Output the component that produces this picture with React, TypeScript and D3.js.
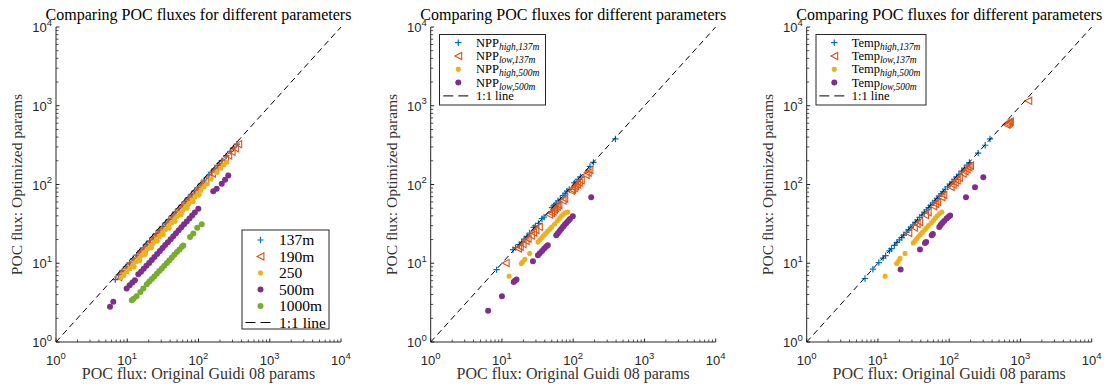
import React from "react";
import * as d3 from "d3";

const W = 1112;
const H = 384;
const TOP = 27;
const BOTTOM = 342;
const PLOT_W = 285;

const DECADES = [1, 10, 100, 1000, 10000];
const EXPONENTS = ["0", "1", "2", "3", "4"];
const TITLE = "Comparing POC fluxes for different parameters";
const XLABEL = "POC flux: Original Guidi 08 params";
const YLABEL = "POC flux: Optimized params";

const BLUE = "#0072BD";
const ORANGE = "#D95319";
const YELLOW = "#EDB120";
const PURPLE = "#7E2F8E";
const GREEN = "#77AC30";
const AXIS = "#262626";

// ---------------- Panel 1: depths ----------------
const p1_137m: [number, number][] = [
  [6.8, 6.2], [7.6, 7.1], [8.5, 8.0], [9.6, 9.0], [10.8, 10.1], [12.1, 11.4], [13.5, 12.7], [15.2, 14.3],
  [16.8, 15.7], [18.5, 17.4], [20.6, 19.3], [22.8, 21.4], [25.3, 23.8], [28.1, 26.3], [31.2, 29.4],
  [34.6, 32.5], [38.4, 36.1], [42.6, 40.0], [47.3, 44.5], [52.5, 49.3], [58.3, 54.8], [64.7, 60.8],
  [71.8, 67.5], [79.7, 74.9], [88.5, 83.2], [98.2, 92.3], [109, 102], [121, 114], [140, 132], [152, 143],
  [168, 158], [186, 175], [196, 184], [214, 201], [245, 231], [280, 264], [310, 292], [345, 326],
];
const p1_190m: [number, number][] = [
  [7.5, 6.7], [8.3, 7.4], [9.2, 8.2], [10.2, 9.1], [11.3, 10.1], [12.6, 11.2], [14.0, 12.5], [15.5, 13.8],
  [17.2, 15.3], [19.1, 17.0], [21.2, 18.9], [23.5, 20.9], [26.1, 23.2], [29.0, 25.8], [32.2, 28.7],
  [35.7, 31.8], [39.6, 35.2], [44.0, 39.2], [48.8, 43.4], [54.2, 48.2], [60.1, 53.5], [66.7, 59.4],
  [74.0, 65.9], [82.2, 73.2], [91.2, 81.2], [101, 90], [112, 100], [125, 111], [139, 124], [155, 138],
  [172, 153], [191, 170], [212, 189], [236, 210], [262, 233], [292, 260], [325, 289], [362, 325],
];
const p1_250: [number, number][] = [
  [8.2, 6.6], [9.0, 7.2], [9.9, 7.9], [10.9, 8.6], [12.0, 9.5], [13.2, 10.4], [14.5, 11.4], [16.0, 12.6],
  [17.6, 13.8], [19.4, 15.2], [21.3, 16.7], [23.5, 18.4], [25.8, 20.2], [28.4, 22.2], [31.3, 24.5],
  [34.4, 26.9], [37.8, 29.6], [41.6, 32.6], [45.8, 35.8], [50.4, 39.4], [55.4, 43.4], [61.0, 47.7],
  [67.1, 52.5], [73.8, 57.8], [81.2, 63.5], [89.3, 69.9], [98.2, 76.9], [108, 84.6], [119, 93.2],
  [131, 102], [150, 118], [180, 142], [205, 162], [228, 178], [250, 192],
  [12.5, 9.0], [15.0, 10.9], [18.0, 13.0], [21.8, 15.8], [26.5, 19.2], [32.0, 23.1], [38.8, 28.0],
  [47.0, 34.0], [57.0, 41.2], [69.0, 50.0], [84.0, 60.8], [102, 74],
];
const p1_500m: [number, number][] = [
  [5.73, 2.8], [6.37, 3.24], [9.8, 4.78], [10.8, 5.25], [11.8, 5.7], [12.8, 6.1], [14.3, 7.26],
  [15.6, 7.8], [17.0, 8.5], [18.6, 9.3], [20.3, 10.1], [22.1, 11.0], [24.1, 12.0], [26.3, 13.1],
  [28.7, 14.3], [31.3, 15.6], [34.1, 17.0], [37.2, 18.5], [40.6, 20.2], [44.3, 22.0], [48.3, 24.0],
  [52.7, 26.2], [57.5, 28.6], [62.7, 31.2], [68.4, 34.0], [74.6, 37.1], [81.4, 40.5], [88.8, 44.2],
  [99.4, 49.2], [161, 82], [180, 88], [212, 102], [236, 115], [262, 130],
];
const p1_1000m: [number, number][] = [
  [11.6, 3.4], [12.3, 3.55], [13.5, 3.8], [15.3, 4.3], [16.8, 4.78], [18.8, 5.42], [20.4, 5.85],
  [22.1, 6.3], [24.0, 6.8], [26.0, 7.35], [28.2, 7.95], [30.6, 8.6], [33.2, 9.3], [36.0, 10.1],
  [39.0, 10.9], [42.3, 11.8], [45.9, 12.8], [49.8, 13.9], [54.0, 15.0], [58.6, 16.2], [61.2, 16.8],
  [76, 21.5], [84.5, 23.8], [96, 28.3], [111, 31.2],
];

// ---------------- Panel 2: NPP ----------------
const p2_high137: [number, number][] = [
  [8.4, 8.3], [14.3, 14.9], [15.5, 15.8], [17.5, 17.2], [19.0, 18.6], [20.5, 20.3], [22.5, 22.0],
  [24.5, 24.2], [28.0, 28.5], [29.5, 29.8], [32.5, 32.0], [36.5, 36.8], [39.0, 38.5], [50.5, 51.0],
  [53.0, 53.5], [55.5, 55.0], [58.0, 57.5], [61.5, 62.0], [66.0, 65.0], [72.0, 72.5], [77.0, 76.0],
  [82.0, 82.5], [88.0, 86.5], [104, 105], [110, 108], [118, 116], [126, 125], [172, 170], [192, 191],
  [391, 379],
];
const p2_low137: [number, number][] = [
  [11.3, 10.1], [16.8, 15.4], [17.8, 16.2], [19.5, 17.5], [21.5, 19.2], [23.0, 20.5], [25.5, 22.5],
  [27.5, 24.5], [29.5, 26.5], [33.0, 29.0], [46.0, 41.5], [49.0, 43.5], [51.5, 45.5], [54.0, 48.0],
  [56.5, 50.0], [59.0, 52.5], [62.0, 55.0], [71.0, 62.5], [75.0, 66.0], [93, 83], [97, 86], [102, 90],
  [107, 95], [113, 100], [120, 106], [128, 113], [150, 132], [160, 141], [169, 153],
];
const p2_high500: [number, number][] = [
  [12.6, 6.85], [18.7, 9.9], [19.5, 10.4], [21.0, 11.2], [24.5, 13.3], [32, 18.6], [34, 19.8], [36, 21.0],
  [38.5, 22.4], [41, 23.8], [44, 25.5], [47, 27.0], [50, 28.8], [55, 31.5], [60, 34.5], [64, 37.0],
  [68, 39.5], [72, 41.5], [77, 43.5], [84, 44.6],
];
const p2_low500: [number, number][] = [
  [6.4, 2.49], [10, 3.82], [14.6, 5.8], [15.2, 6.0], [16.0, 6.2], [27.2, 10.6], [32, 12.6], [34, 13.4],
  [36.5, 14.3], [39, 15.3], [41.5, 16.2], [44, 16.9], [57.8, 22.6], [61, 24.0], [64.5, 25.6], [68, 27.2],
  [72, 29.0], [76, 30.8], [80, 32.5], [85, 34.5], [90, 36.5], [98.7, 39.4], [179, 69],
];

// ---------------- Panel 3: Temperature ----------------
const p3_high137: [number, number][] = [
  [6.58, 6.4], [8.5, 8.4], [10.3, 10.2], [11.8, 11.6], [12.8, 12.5], [14.5, 14.4], [15.5, 15.3],
  [17.0, 16.9], [18.5, 18.4], [20.0, 19.8], [21.5, 21.2], [23.0, 22.8], [25.0, 24.6], [27.0, 26.8],
  [29.0, 28.7], [31.0, 30.6], [33.5, 33.0], [36.0, 35.5], [38.5, 38.2], [41.5, 41.0], [45.0, 44.5],
  [48.0, 47.5], [51.5, 51.0], [55.0, 54.2], [59.0, 58.5], [63.0, 62.0], [67.5, 66.5], [72.0, 71.0],
  [77.0, 76.0], [82.0, 81.0], [88.0, 87.0], [95.0, 93.5], [102, 101], [110, 108], [118, 116],
  [127, 125], [137, 135], [150, 148], [163, 161], [178, 176], [192, 190], [255, 250], [320, 315],
  [374, 379],
];
const p3_low137: [number, number][] = [
  [26.7, 24.2], [32.0, 28.5], [35.0, 31.5], [38.0, 33.5], [46.0, 41.0], [50.0, 44.5], [60.0, 53.0],
  [64.0, 56.5], [68.0, 60.0], [78.0, 69.0], [83.0, 73.5], [105, 93], [112, 99], [120, 106], [128, 113],
  [137, 122], [155, 138], [165, 147], [176, 157], [187, 166], [196, 174], [641, 574], [665, 590],
  [690, 612], [712, 632], [1290, 1156],
];
const p3_high500: [number, number][] = [
  [12.6, 6.85], [18.3, 9.9], [19.2, 10.5], [20.4, 11.5], [24.0, 13.3], [31.3, 18.1], [33.0, 19.2],
  [35.0, 20.5], [37.0, 21.8], [39.5, 23.2], [42.0, 24.6], [45.0, 26.3], [48.0, 28.0], [51.0, 30.0],
  [56.0, 32.5], [60.0, 35.0], [64.0, 37.5], [68.0, 40.0], [73.0, 42.5], [78.5, 44.6],
];
const p3_low500: [number, number][] = [
  [20.8, 8.3], [38.9, 14.9], [45.7, 18.1], [47.5, 18.6], [56.8, 22.6], [59, 23.5], [72.6, 28.8],
  [76, 30.5], [80, 32.5], [85, 34.5], [92, 37.0], [98, 39.0], [103, 40.5], [172, 69], [230, 92.5],
  [301, 124],
];

type Marker = "plus" | "triLeft" | "star" | "dot";
type Series = { label: string; sub?: string; marker: Marker; color: string; data: [number, number][] };

const panel1Series: Series[] = [
  { label: "137m", marker: "plus", color: BLUE, data: p1_137m },
  { label: "190m", marker: "triLeft", color: ORANGE, data: p1_190m },
  { label: "250", marker: "star", color: YELLOW, data: p1_250 },
  { label: "500m", marker: "dot", color: PURPLE, data: p1_500m },
  { label: "1000m", marker: "dot", color: GREEN, data: p1_1000m },
];
const panel2Series: Series[] = [
  { label: "NPP", sub: "high,137m", marker: "plus", color: BLUE, data: p2_high137 },
  { label: "NPP", sub: "low,137m", marker: "triLeft", color: ORANGE, data: p2_low137 },
  { label: "NPP", sub: "high,500m", marker: "star", color: YELLOW, data: p2_high500 },
  { label: "NPP", sub: "low,500m", marker: "dot", color: PURPLE, data: p2_low500 },
];
const panel3Series: Series[] = [
  { label: "Temp", sub: "high,137m", marker: "plus", color: BLUE, data: p3_high137 },
  { label: "Temp", sub: "low,137m", marker: "triLeft", color: ORANGE, data: p3_low137 },
  { label: "Temp", sub: "high,500m", marker: "star", color: YELLOW, data: p3_high500 },
  { label: "Temp", sub: "low,500m", marker: "dot", color: PURPLE, data: p3_low500 },
];

const SERIF = "'Liberation Serif', 'Times New Roman', serif";
const SANS = "'Liberation Sans', Arial, sans-serif";

function MarkerShape({ m, color, x, y, s = 1 }: { m: Marker; color: string; x: number; y: number; s?: number }) {
  if (m === "plus") {
    const a = 3.2 * s;
    return (
      <path d={`M${x - a},${y}H${x + a}M${x},${y - a}V${y + a}`} stroke={color} strokeWidth={1.2} fill="none" />
    );
  }
  if (m === "triLeft") {
    const a = 3.4 * s;
    return (
      <path
        d={`M${x - a},${y}L${x + a},${y - a * 1.05}L${x + a},${y + a * 1.05}Z`}
        stroke={color}
        strokeWidth={1.1}
        fill="none"
      />
    );
  }
  if (m === "star") {
    const a = 2.6 * s;
    const d = a * 0.72;
    return (
      <path
        d={`M${x - a},${y}H${x + a}M${x},${y - a}V${y + a}M${x - d},${y - d}L${x + d},${y + d}M${x - d},${y + d}L${x + d},${y - d}`}
        stroke={color}
        strokeWidth={1.6}
        fill="none"
      />
    );
  }
  return <circle cx={x} cy={y} r={3 * s} fill={color} />;
}

type LegendCfg = {
  x: number;
  y: number;
  w: number;
  h: number;
  rowY0: number;
  rowStep: number;
  markerX: number;
  textX: number;
  fontSize: number;
  subSize: number;
};

function Panel({ left, series, legend }: { left: number; series: Series[]; legend: LegendCfg }) {
  const x = d3.scaleLog().domain([1, 1e4]).range([left, left + PLOT_W]);
  const y = d3.scaleLog().domain([1, 1e4]).range([BOTTOM, TOP]);
  const minor: number[] = [];
  for (let i = 0; i < 4; i++) for (let k = 2; k <= 9; k++) minor.push(k * DECADES[i]);
  const cx = left + PLOT_W / 2;
  const line = d3.line<number>().x((v) => x(v)).y((v) => y(v));
  const rows = series.length + 1;
  return (
    <g>
      <text x={cx} y={20} textAnchor="middle" fontFamily={SERIF} fontSize={16} fill="#000">
        {TITLE}
      </text>
      {/* axes */}
      <line x1={left} x2={left} y1={TOP} y2={BOTTOM} stroke={AXIS} strokeWidth={1} />
      <line x1={left} x2={left + PLOT_W} y1={BOTTOM} y2={BOTTOM} stroke={AXIS} strokeWidth={1} />
      {DECADES.map((d) => (
        <g key={"M" + d}>
          <line x1={x(d)} x2={x(d)} y1={BOTTOM} y2={BOTTOM - 3.5} stroke={AXIS} strokeWidth={1} />
          <line x1={left} x2={left + 3.5} y1={y(d)} y2={y(d)} stroke={AXIS} strokeWidth={1} />
        </g>
      ))}
      {minor.map((d) => (
        <g key={"m" + d}>
          <line x1={x(d)} x2={x(d)} y1={BOTTOM} y2={BOTTOM - 2.5} stroke={AXIS} strokeWidth={0.8} />
          <line x1={left} x2={left + 2.5} y1={y(d)} y2={y(d)} stroke={AXIS} strokeWidth={0.8} />
        </g>
      ))}
      {DECADES.map((d, i) => (
        <g key={"t" + d} fontFamily={SANS} fill="#262626">
          <text x={x(d)} y={365} textAnchor="middle" fontSize={13}>
            10<tspan dy={-6.5} fontSize={9.5}>{EXPONENTS[i]}</tspan>
          </text>
          <text x={left - 4} y={y(d) + 5} textAnchor="end" fontSize={13}>
            10<tspan dy={-6.5} fontSize={9.5}>{EXPONENTS[i]}</tspan>
          </text>
        </g>
      ))}
      <text x={cx} y={379} textAnchor="middle" fontFamily={SERIF} fontSize={16} fill="#333">
        {XLABEL}
      </text>
      <text
        transform={`translate(${left - 34},${(TOP + BOTTOM) / 2}) rotate(-90)`}
        textAnchor="middle"
        fontFamily={SERIF}
        fontSize={15.5}
        fill="#333"
      >
        {YLABEL}
      </text>
      {/* data */}
      {series.map((s, si) => (
        <g key={"s" + si}>
          {s.data.map((p, pi) => (
            <MarkerShape key={pi} m={s.marker} color={s.color} x={x(p[0])} y={y(p[1])} />
          ))}
        </g>
      ))}
      <path d={line([1, 1e4]) || ""} stroke="#000" strokeWidth={1} strokeDasharray="6,4" fill="none" />
      {/* legend */}
      <rect x={legend.x} y={legend.y} width={legend.w} height={legend.h} fill="#fff" stroke={AXIS} strokeWidth={1} />
      {series.map((s, i) => {
        const ry = legend.rowY0 + i * legend.rowStep;
        return (
          <g key={"l" + i}>
            <MarkerShape m={s.marker} color={s.color} x={legend.markerX} y={ry} />
            <text x={legend.textX} y={ry + legend.fontSize * 0.33} fontFamily={SERIF} fontSize={legend.fontSize} fill="#000">
              {s.label}
              {s.sub ? (
                <tspan dy={3} fontSize={legend.subSize} fontStyle="italic">
                  {s.sub}
                </tspan>
              ) : null}
            </text>
          </g>
        );
      })}
      {(() => {
        const ry = legend.rowY0 + (rows - 1) * legend.rowStep;
        return (
          <g>
            <line
              x1={legend.markerX - 15}
              x2={legend.markerX + 15}
              y1={ry}
              y2={ry}
              stroke="#000"
              strokeWidth={1}
              strokeDasharray="10,5"
            />
            <text x={legend.textX} y={ry + legend.fontSize * 0.33} fontFamily={SERIF} fontSize={legend.fontSize} fill="#000">
              1:1 line
            </text>
          </g>
        );
      })()}
    </g>
  );
}

const legend1: LegendCfg = { x: 242, y: 230, w: 87, h: 99, rowY0: 240, rowStep: 16.5, markerX: 260.5, textX: 279, fontSize: 15.5, subSize: 9 };
const legend2: LegendCfg = { x: 439.5, y: 34.5, w: 106, h: 70.5, rowY0: 42.7, rowStep: 13.3, markerX: 458.3, textX: 476, fontSize: 12.5, subSize: 9.5 };
const legend3: LegendCfg = { x: 816, y: 34.5, w: 110, h: 70.5, rowY0: 42.7, rowStep: 13.3, markerX: 834.3, textX: 851.7, fontSize: 12.5, subSize: 9.5 };

export default function App() {
  return (
    <svg
      width={W}
      height={H}
      viewBox={`0 0 ${W} ${H}`}
      style={{ position: "absolute", left: 0, top: 0, background: "#fff" }}
    >
      <rect x={0} y={0} width={W} height={H} fill="#fff" />
      <Panel left={56} series={panel1Series} legend={legend1} />
      <Panel left={430.7} series={panel2Series} legend={legend2} />
      <Panel left={806.7} series={panel3Series} legend={legend3} />
    </svg>
  );
}
